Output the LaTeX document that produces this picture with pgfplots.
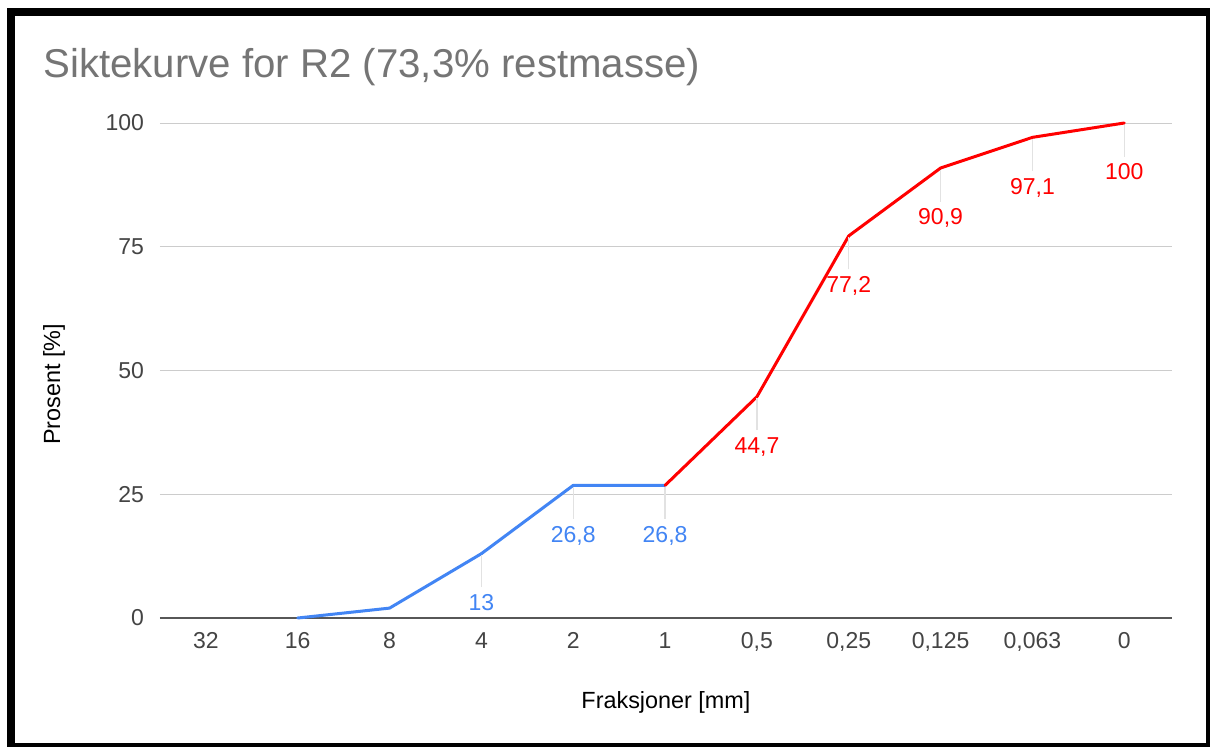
\documentclass[border=0pt]{standalone}
\usepackage{pgfplots}
\pgfplotsset{compat=1.18}
\usepackage{fontspec}
\setmainfont{Liberation Sans}
\definecolor{gblue}{HTML}{4285F4}
\definecolor{gred}{HTML}{FF0000}
\definecolor{leadc}{HTML}{E2E2E2}
\definecolor{gridc}{HTML}{CCCCCC}
\definecolor{tickc}{HTML}{444444}
\definecolor{titlec}{HTML}{757575}
\newcommand{\lbl}[1]{{\color{leadc}\rule{0.6pt}{16pt}}\\[-2.3pt]#1}
\begin{document}
\begin{tikzpicture}
\useasboundingbox (0,0) rectangle (605pt,373pt);
\fill[white] (0,0) rectangle (605pt,373pt);
\node[anchor=base west, inner sep=0pt, text=titlec, font=\fontsize{20.1}{23}\selectfont] at (21.5pt,334pt) {Siktekurve for R2 (73,3\% restmasse)};
\begin{axis}[
  at={(80pt,64pt)}, anchor=south west,
  width=506pt, height=247.5pt, scale only axis,
  xmin=-0.5, xmax=10.52, ymin=0, ymax=100,
  xtick={0,1,2,3,4,5,6,7,8,9,10},
  xticklabels={32,16,8,4,2,1,{0,5},{0,25},{0,125},{0,063},0},
  ytick={0,25,50,75,100},
  extra y ticks={0}, extra y tick labels={},
  extra y tick style={grid style={color=tickc!90, line width=0.8pt}},
  ymajorgrids, grid style={color=gridc, line width=0.5pt},
  axis line style={draw=none},
  major tick length=0pt, tick style={draw=none},
  /pgf/number format/assume math mode=true,
  ticklabel style={text=tickc, font=\fontsize{11.5}{14}\selectfont},
  yticklabel style={xshift=-4.5pt},
  xticklabel style={yshift=-3.7pt},
  xlabel={Fraksjoner [mm]}, ylabel={Prosent [\%]},
  label style={font=\fontsize{11.7}{14}\selectfont, text=black},
  xlabel style={at={([yshift=-45pt]axis description cs:0.5,0)}, anchor=base},
  ylabel style={at={([xshift=-53pt]axis description cs:0,0.472)}, anchor=center},
  clip=false,
  point meta=explicit symbolic,
  every node near coord/.append style={anchor=north, inner sep=0pt, align=center, font=\fontsize{11.5}{14}\selectfont},
]
% blue part, unlabeled points
\addplot[gblue, line width=1.5pt, line join=round, line cap=round, mark=none] coordinates {(1,0) (2,2) (3,13)};
% blue part, labeled points
\addplot[gblue, line width=1.5pt, line join=round, line cap=round, mark=none,
  nodes near coords={\lbl{\pgfplotspointmeta}},
  every node near coord/.append style={text=gblue}] table[meta=lab] {
x y lab
3 13 13
4 26.8 26,8
5 26.8 26,8
};
% red part, unlabeled start
\addplot[gred, line width=1.5pt, line join=round, line cap=round, mark=none] coordinates {(5,26.8) (6,44.7)};
% red part, labeled
\addplot[gred, line width=1.5pt, line join=round, line cap=round, mark=none,
  nodes near coords={\lbl{\pgfplotspointmeta}},
  every node near coord/.append style={text=gred}] table[meta=lab] {
x y lab
6 44.7 44,7
7 77.2 77,2
8 90.9 90,9
9 97.1 97,1
10 100 100
};
\end{axis}
\draw[black, line width=4pt] (5.25pt,-0.5pt) rectangle (605pt,367pt);
\end{tikzpicture}
\end{document}
